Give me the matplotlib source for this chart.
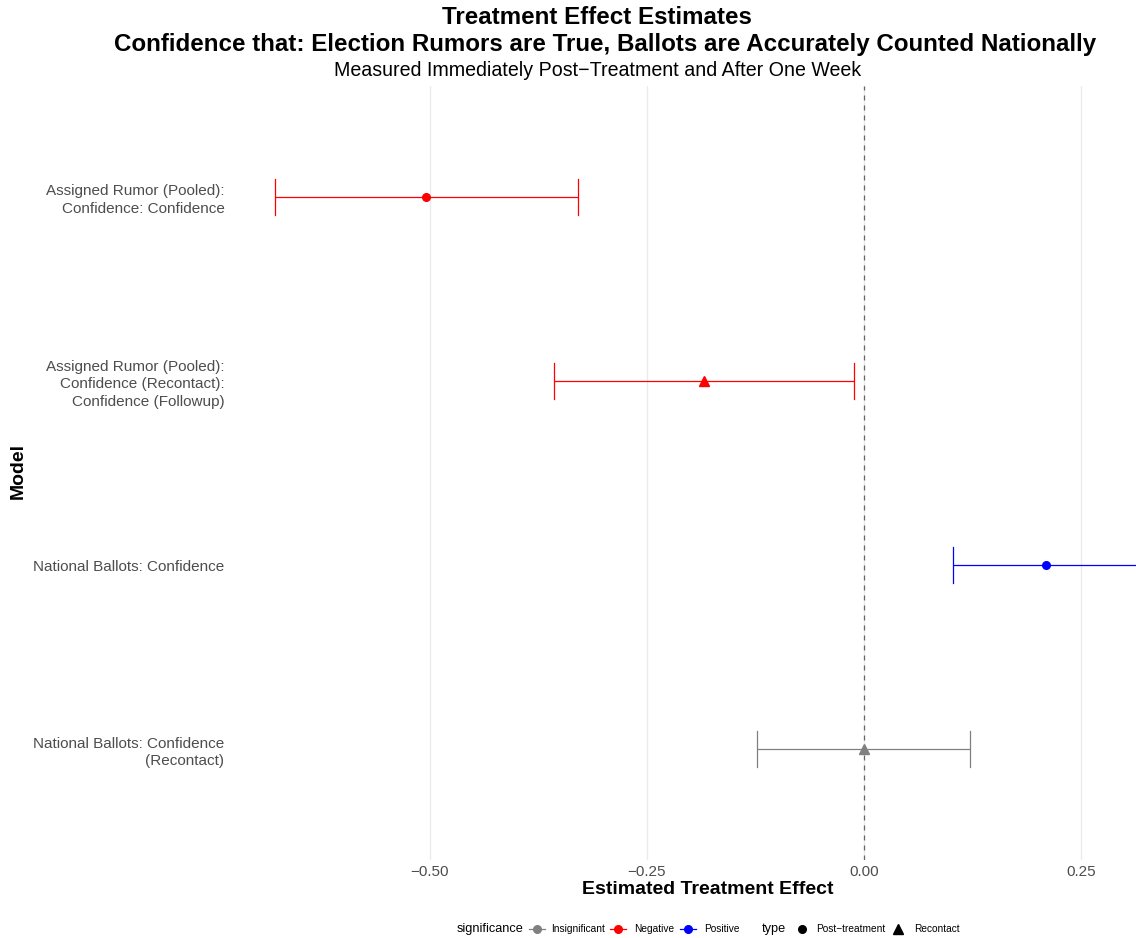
import matplotlib
matplotlib.use("Agg")
import matplotlib.pyplot as plt
from matplotlib.lines import Line2D

plt.rcParams['font.family'] = ['Liberation Sans', 'DejaVu Sans']

models = [
    "Assigned Rumor (Pooled):\nConfidence: Confidence",
    "Assigned Rumor (Pooled):\nConfidence (Recontact):\nConfidence (Followup)",
    "National Ballots: Confidence",
    "National Ballots: Confidence\n(Recontact)",
]
estimates = [-0.505, -0.184, 0.210, 0.000]
lower = [-0.679, -0.357, 0.102, -0.123]
upper = [-0.329, -0.011, 0.319, 0.122]
significance = ["Negative", "Negative", "Positive", "Insignificant"]
types = ["Post-treatment", "Recontact", "Post-treatment", "Recontact"]

sig_colors = {"Insignificant": "#808080", "Negative": "#FF0000", "Positive": "#0000FF"}
type_markers = {"Post-treatment": "o", "Recontact": "^"}

W, H = 1136, 938
fig = plt.figure(figsize=(W / 100, H / 100), dpi=100)
ax = fig.add_axes([230 / W, 1 - 859.5 / H, (1136 - 230) / W, (859.5 - 86.5) / H])

n = len(models)
ypos = list(range(n))
for i in range(n):
    c = sig_colors[significance[i]]
    y = ypos[i]
    ax.plot([lower[i], upper[i]], [y, y], color=c, lw=0.9, solid_capstyle='butt', zorder=3)
    for xc in (lower[i], upper[i]):
        ax.plot([xc, xc], [y - 0.1, y + 0.1], color=c, lw=0.9, zorder=3)
    ms = 5.5 if type_markers[types[i]] == "o" else 6.5
    ax.plot(estimates[i], y, marker=type_markers[types[i]], color=c, ms=ms, mec=c, zorder=4, ls='none')

ax.axvline(0, color="#666666", ls=(0, (4, 4)), lw=0.9, zorder=2)

ax.set_xlim(-0.7304, 0.3134)
ax.set_ylim(n - 1 + 0.6, -0.6)
ax.set_xticks([-0.5, -0.25, 0.0, 0.25])
ax.set_xticklabels(["\u22120.50", "\u22120.25", "0.00", "0.25"])
ax.set_yticks(ypos)
ax.set_yticklabels(models, ha='right', multialignment='right', linespacing=1.35)
ax.grid(axis='x', color="#EBEBEB", lw=1.0, zorder=0)
ax.grid(axis='y', visible=False)
for s in ax.spines.values():
    s.set_visible(False)
ax.tick_params(length=0, labelcolor="#4D4D4D", labelsize=11)
ax.tick_params(axis='y', pad=4)
ax.tick_params(axis='x', pad=4)

fig.text(708 / W, 1 - 889 / H, "Estimated Treatment Effect", ha='center', va='center',
         fontsize=14, fontweight='bold')
fig.text(18 / W, 1 - 471 / H, "Model", ha='center', va='center', rotation=90,
         fontsize=14, fontweight='bold')

fig.text(597 / W, 1 - 17 / H, "Treatment Effect Estimates", ha='center', va='center',
         fontsize=17.4, fontweight='bold')
fig.text(605 / W, 1 - 44 / H,
         "Confidence that: Election Rumors are True, Ballots are Accurately Counted Nationally",
         ha='center', va='center', fontsize=17.4, fontweight='bold')
fig.text(598 / W, 1 - 71 / H, "Measured Immediately Post\u2212Treatment and After One Week",
         ha='center', va='center', fontsize=14.1)

# Legend (manual, ggplot-style horizontal at bottom)
ly = 1 - 929 / H
fs = 7.3
fig.text(457 / W, ly, "significance", ha='left', va='center', fontsize=9.2)
sig_items = [("Insignificant", 537, 551), ("Negative", 618, 634), ("Positive", 688, 704)]
for name, kx, tx in sig_items:
    c = sig_colors[name]
    fig.add_artist(Line2D([(kx - 8) / W, (kx + 8) / W], [ly, ly], color=c, lw=0.9,
                          transform=fig.transFigure))
    fig.add_artist(Line2D([kx / W], [ly], marker='o', color=c, ms=5.5, transform=fig.transFigure))
    fig.text(tx / W, ly, name, ha='left', va='center', fontsize=fs)
fig.text(762 / W, ly, "type", ha='left', va='center', fontsize=9.2)
type_items = [("Post-treatment", 802, 816, "Post\u2212treatment"), ("Recontact", 898, 914, "Recontact")]
for name, kx, tx, lab in type_items:
    fig.add_artist(Line2D([kx / W], [ly], marker=type_markers[name], color='black',
                          ms=5.5 if name == "Post-treatment" else 6.5,
                          transform=fig.transFigure))
    fig.text(tx / W, ly, lab, ha='left', va='center', fontsize=fs)

fig.savefig("out.png", dpi=100, facecolor='white')
